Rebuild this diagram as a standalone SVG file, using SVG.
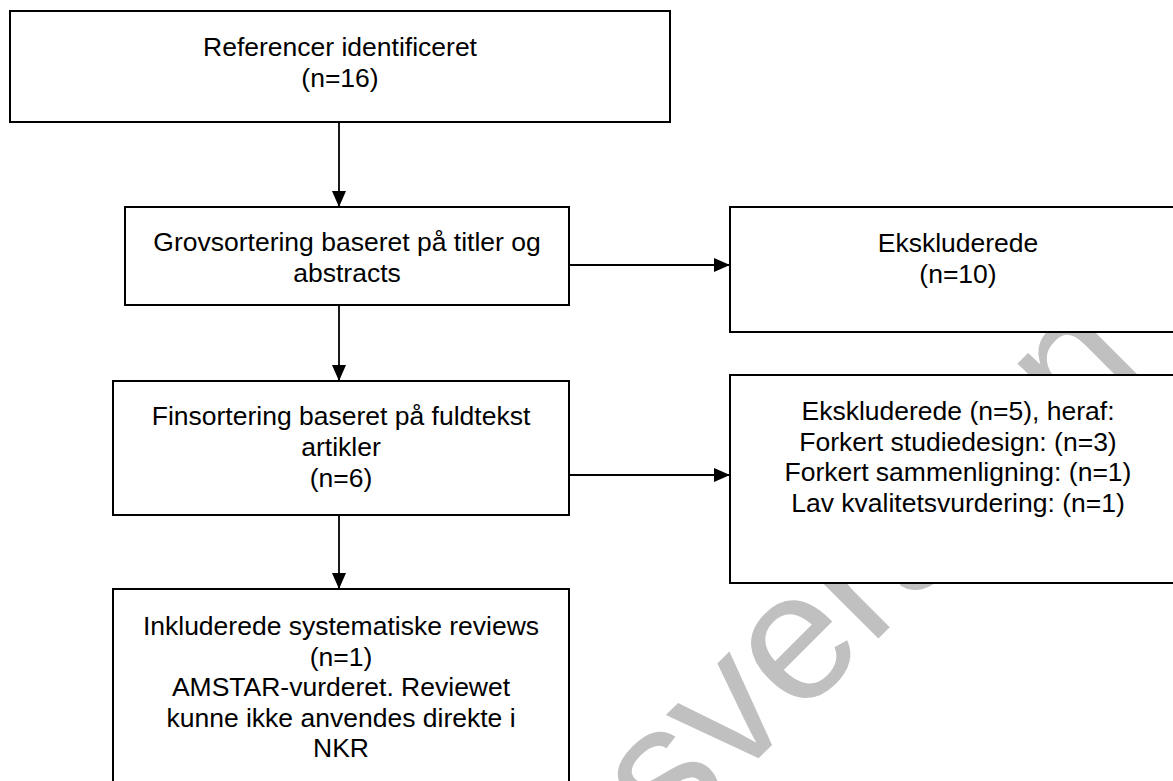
<svg xmlns="http://www.w3.org/2000/svg" width="1173" height="781" viewBox="0 0 1173 781">
  <defs>
    <style>
      .box { fill: #ffffff; stroke: #000000; stroke-width: 2; }
      .lbl { font-family: "Liberation Sans", Arial, sans-serif; font-size: 26.5px; fill: #000000; text-anchor: middle; }
      .edge { fill: none; stroke: #000000; stroke-width: 1.8; marker-end: url(#arrow); }
      .wm { font-family: "Liberation Sans", Arial, sans-serif; font-size: 182px; fill: #c0c0c0; text-anchor: end; }
    </style>
    <marker id="arrow" markerUnits="userSpaceOnUse" markerWidth="16" markerHeight="14" refX="16" refY="7" orient="auto">
      <path d="M0,0 L16,7 L0,14 Z" fill="#000000"/>
    </marker>
  </defs>

  <rect width="1173" height="781" fill="#ffffff"/>

  <!-- diagonal watermark, sits behind the white boxes -->
  <g id="watermark">
    <text class="wm" transform="translate(669,848) rotate(-45)" x="678" y="0">Høringsversion</text>
  </g>

  <g id="node-identified">
    <rect class="box" x="10" y="11" width="660" height="111"/>
    <text class="lbl" x="340" y="56">Referencer identificeret</text>
    <text class="lbl" x="340" y="87">(n=16)</text>
  </g>

  <g id="node-screening">
    <rect class="box" x="125" y="207" width="444" height="98"/>
    <text class="lbl" x="347" y="251">Grovsortering baseret på titler og</text>
    <text class="lbl" x="347" y="282">abstracts</text>
  </g>

  <g id="node-excluded-screening">
    <rect class="box" x="730" y="207" width="460" height="125"/>
    <text class="lbl" x="958" y="252">Ekskluderede</text>
    <text class="lbl" x="958" y="283">(n=10)</text>
  </g>

  <g id="node-fulltext">
    <rect class="box" x="113" y="381" width="456" height="134"/>
    <text class="lbl" x="341" y="425">Finsortering baseret på fuldtekst</text>
    <text class="lbl" x="341" y="456">artikler</text>
    <text class="lbl" x="341" y="486.5">(n=6)</text>
  </g>

  <g id="node-excluded-fulltext">
    <rect class="box" x="730" y="375" width="460" height="208"/>
    <text class="lbl" x="958" y="420">Ekskluderede (n=5), heraf:</text>
    <text class="lbl" x="958" y="450.5">Forkert studiedesign: (n=3)</text>
    <text class="lbl" x="958" y="481">Forkert sammenligning: (n=1)</text>
    <text class="lbl" x="958" y="511.5">Lav kvalitetsvurdering: (n=1)</text>
  </g>

  <g id="node-included">
    <rect class="box" x="113" y="589" width="456" height="220"/>
    <text class="lbl" x="341" y="635">Inkluderede systematiske reviews</text>
    <text class="lbl" x="341" y="665.5">(n=1)</text>
    <text class="lbl" x="341" y="696">AMSTAR-vurderet. Reviewet</text>
    <text class="lbl" x="341" y="726.5">kunne ikke anvendes direkte i</text>
    <text class="lbl" x="341" y="757">NKR</text>
  </g>

  <g id="connectors">
    <line class="edge" x1="339" y1="122" x2="339" y2="207"/>
    <line class="edge" x1="569" y1="265" x2="730" y2="265"/>
    <line class="edge" x1="339" y1="305" x2="339" y2="381"/>
    <line class="edge" x1="569" y1="475" x2="730" y2="475"/>
    <line class="edge" x1="339" y1="515" x2="339" y2="589"/>
  </g>
</svg>
